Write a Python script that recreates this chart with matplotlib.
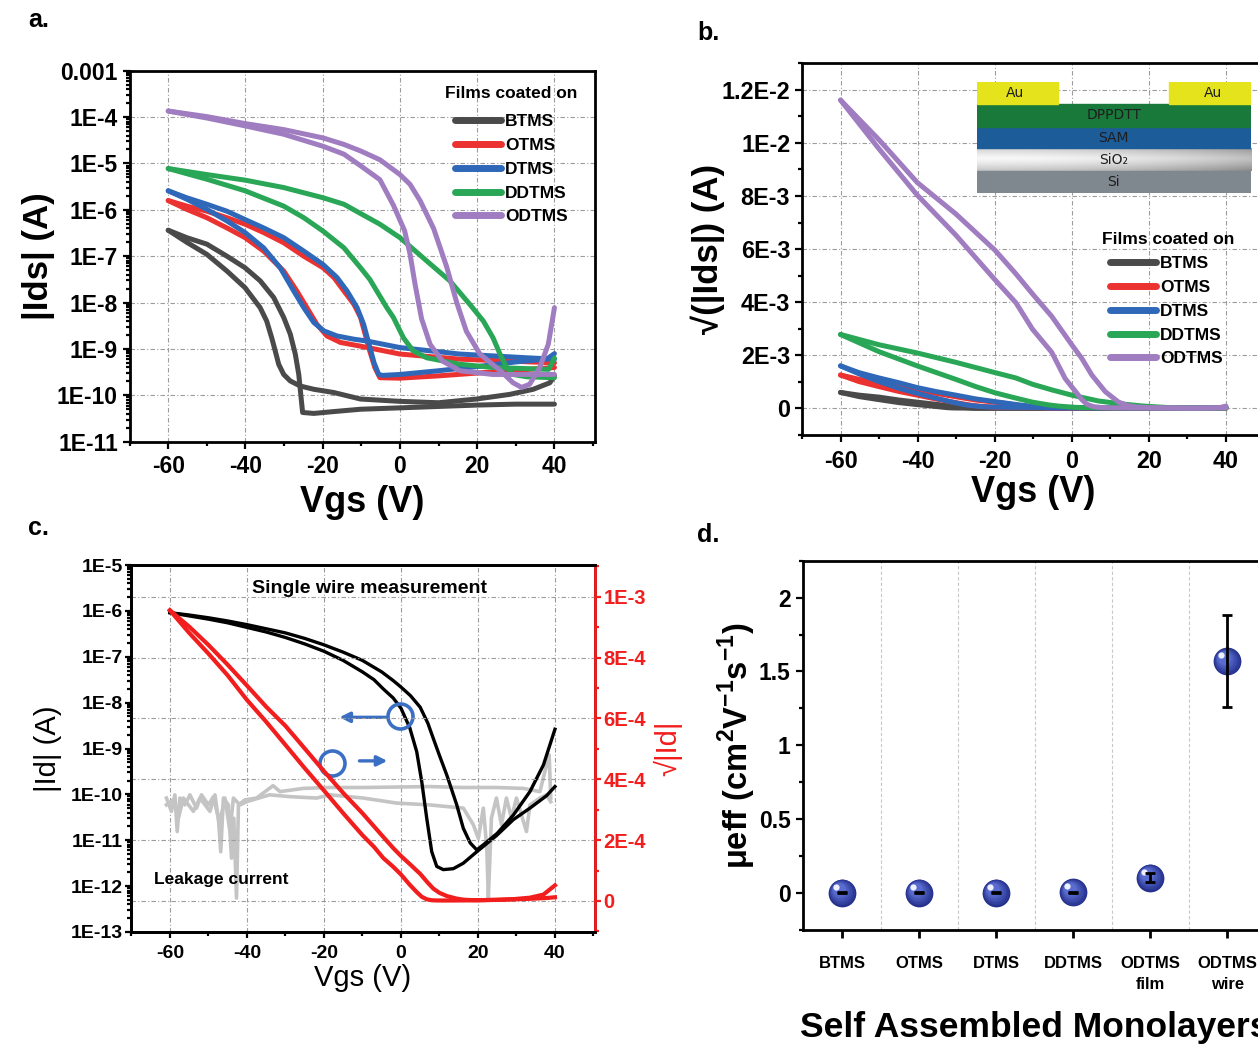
import numpy as np
import matplotlib.pyplot as plt
import matplotlib.colors as mcolors
from matplotlib import ticker
from matplotlib.transforms import offset_copy
from matplotlib.patches import Rectangle

plt.rcParams['font.family'] = ['Liberation Sans', 'DejaVu Sans']
plt.rcParams['mathtext.fontset'] = 'custom'
plt.rcParams['mathtext.rm'] = 'Liberation Sans:bold'
plt.rcParams['mathtext.bf'] = 'Liberation Sans:bold'
plt.rcParams['axes.linewidth'] = 2.0
plt.rcParams['axes.unicode_minus'] = False

# transfer curves of DPPDTT films on each SAM, Vgs (V) and log10|Ids| (A), two sweep branches
sams = ['BTMS', 'OTMS', 'DTMS', 'DDTMS', 'ODTMS']
sam_colors = ['#4a4a4a', '#ec3131', '#2f68b8', '#29a656', '#a07cc0']

btms_v1 = [-60, -55.2, -50, -44.8, -40.1, -36.2, -34.5, -33.2, -32.3, -31.4, -30.1, -28.4, -25.8, -22.3, -17.1,
           -10.2, 0, 10, 19.8, 28.4, 34.5, 38.8, 40]
btms_log1 = [-6.44, -6.70, -6.96, -7.32, -7.68, -8.11, -8.40, -8.76, -9.04, -9.33, -9.55, -9.69, -9.80, -9.87,
             -9.94, -10.08, -10.13, -10.16, -10.08, -9.98, -9.87, -9.73, -9.58]
btms_v2 = [-60, -55.2, -50, -44.8, -40.1, -36.2, -32.7, -30.1, -28.4, -27.1, -26.2, -25.6, -25.2, -22.3, -17.1,
           -10.2, 0, 10, 20, 30, 40]
btms_log2 = [-6.44, -6.60, -6.74, -7.00, -7.25, -7.53, -7.89, -8.32, -8.68, -9.11, -9.55, -10.05, -10.37, -10.39,
             -10.35, -10.30, -10.27, -10.24, -10.21, -10.19, -10.19]

otms_v1 = [-60, -55.2, -50, -44.8, -40.1, -35.3, -30.1, -24.9, -19.9, -17.1, -14.5, -11.9, -10.2, -7.8, -6.5,
           -5.2, 0, 10, 20, 30, 40]
otms_log1 = [-5.80, -5.92, -6.03, -6.17, -6.31, -6.49, -6.71, -7.00, -7.25, -7.46, -7.75, -8.04, -8.32, -9.05,
             -9.40, -9.62, -9.63, -9.58, -9.52, -9.46, -9.40]
otms_v2 = [-60, -55.2, -50, -44.8, -40.1, -35.3, -30.1, -26.7, -24.1, -21.5, -18.9, -15.4, -10.2, 0, 15.5, 40]
otms_log2 = [-5.80, -5.99, -6.17, -6.39, -6.60, -6.89, -7.32, -7.75, -8.11, -8.47, -8.72, -8.86, -8.94, -9.11,
             -9.22, -9.30]

dtms_v1 = [-60, -55.2, -50, -44.8, -40.1, -35.3, -30.1, -24.9, -19.9, -16.3, -13.7, -11.1, -9.4, -8.0, -6.7,
           -5.5, -4.5, 0, 10, 20, 30, 38, 40]
dtms_log1 = [-5.59, -5.74, -5.88, -6.03, -6.21, -6.39, -6.60, -6.89, -7.18, -7.46, -7.75, -8.11, -8.47, -8.90,
             -9.30, -9.55, -9.57, -9.55, -9.47, -9.38, -9.28, -9.22, -9.10]
dtms_v2 = [-60, -55.2, -50, -44.8, -40.1, -35.3, -31.0, -27.5, -24.9, -22.3, -19.7, -16.3, -11.9, -8.5, 0, 15.5,
           32.8, 40]
dtms_log2 = [-5.59, -5.77, -5.99, -6.24, -6.49, -6.82, -7.25, -7.75, -8.11, -8.43, -8.61, -8.72, -8.79, -8.83,
             -8.97, -9.11, -9.19, -9.22]

ddtms_v1 = [-60, -50, -40.1, -30.1, -19.9, -14.5, -10.2, -5.2, 0, 6.9, 12.9, 18.1, 21.6, 24.1, 25.9, 27.6, 29.3,
            32.8, 40]
ddtms_log1 = [-5.11, -5.24, -5.36, -5.52, -5.74, -5.88, -6.08, -6.31, -6.60, -7.10, -7.53, -8.04, -8.40, -8.76,
              -9.11, -9.40, -9.55, -9.60, -9.62]
ddtms_v2 = [-60, -50, -40.1, -30.1, -24.9, -19.9, -14.5, -10.2, -7.8, -6.0, -3.4, -1.7, 0.9, 3.4, 6.9, 15.5, 24.1,
            38.5, 40]
ddtms_log2 = [-5.11, -5.34, -5.59, -5.92, -6.17, -6.46, -6.82, -7.25, -7.50, -7.75, -8.11, -8.32, -8.76, -9.04,
              -9.19, -9.33, -9.40, -9.44, -9.20]

odtms_v1 = [-60, -50, -40.1, -30.1, -19.9, -14.5, -10.2, -5.2, 0, 2.6, 5.2, 8.7, 12.1, 14.7, 17.2, 20.7, 26, 29.3,
            31.5, 33.6, 36.2, 38.4, 40]
odtms_log1 = [-3.87, -3.99, -4.14, -4.27, -4.45, -4.59, -4.73, -4.92, -5.24, -5.45, -5.80, -6.40, -7.23, -8.00,
              -8.62, -9.11, -9.47, -9.73, -9.83, -9.76, -9.40, -8.90, -8.11]
odtms_v2 = [-60, -50, -40.1, -30.1, -19.9, -14.5, -10.2, -5.2, -1.7, 1.2, 2.6, 3.9, 5.6, 7.8, 11, 15.5, 24, 40]
odtms_log2 = [-3.87, -4.02, -4.19, -4.37, -4.63, -4.80, -5.05, -5.35, -5.90, -6.45, -6.95, -7.60, -8.35, -8.90,
              -9.26, -9.47, -9.55, -9.55]

sweeps = [
    [(btms_v1, btms_log1), (btms_v2, btms_log2)],
    [(otms_v1, otms_log1), (otms_v2, otms_log2)],
    [(dtms_v1, dtms_log1), (dtms_v2, dtms_log2)],
    [(ddtms_v1, ddtms_log1), (ddtms_v2, ddtms_log2)],
    [(odtms_v1, odtms_log1), (odtms_v2, odtms_log2)],
]

# single ODTMS wire: drain current branches, log10|Id| (A)
wire_v1 = [-60, -55, -50, -45, -40, -35, -30, -25, -20, -15, -10, -5, -2, 0, 2.5, 5, 7, 8.4, 10, 12, 14.5, 16.2,
           18, 19.7, 21.4, 25, 29.2, 33.5, 37, 40]
wire_log1 = [-6.04, -6.09, -6.15, -6.22, -6.30, -6.39, -6.48, -6.60, -6.74, -6.90, -7.08, -7.33, -7.52, -7.66,
             -7.85, -8.10, -8.45, -8.78, -9.15, -9.60, -10.23, -10.74, -11.06, -11.21, -11.10, -10.85, -10.45,
             -9.94, -9.36, -8.58]
wire_v2 = [-60, -55, -50, -45, -40, -35, -30, -25, -20, -15, -10, -7, -4.6, -2, 0, 2.3, 4.1, 5.4, 6.7, 8.0, 9.3,
           11, 13.6, 16.2, 19.7, 24.8, 29.2, 33.5, 37.8, 40]
wire_log2 = [-6.04, -6.11, -6.18, -6.26, -6.36, -6.46, -6.58, -6.72, -6.88, -7.08, -7.33, -7.50, -7.70, -7.90,
             -8.12, -8.55, -9.07, -9.72, -10.52, -11.25, -11.57, -11.64, -11.62, -11.50, -11.25, -10.90, -10.55,
             -10.30, -10.03, -9.83]

# gate leakage, log10|Ig| (A)
leak_v1 = [-60.9, -59.6, -58.7, -58.1, -57.4, -56.1, -54.8, -53.1, -51.8, -50.0, -48.7, -47.4, -46.8, -46.1, -44.8,
           -44.0, -43.4, -42.7, -42.2, -40.5, -37.5, -33.2, -31.4, -25.4, -18.4, -9.8, -1.1, 7.5, 16.2, 24.8, 31.8,
           36.1, 37.8, 38.5, 38.9]
leak_log1 = [-10.08, -10.37, -10.01, -10.81, -10.08, -10.23, -10.01, -10.30, -10.01, -10.23, -10.05, -10.52,
             -11.25, -10.08, -10.23, -11.39, -10.52, -12.26, -10.23, -10.12, -10.08, -9.81, -9.94, -9.87, -9.85,
             -9.85, -9.84, -9.83, -9.85, -9.85, -9.87, -9.94, -9.36, -9.14, -10.08]
leak_v2 = [-60.9, -59.1, -57.8, -56.5, -53.9, -52.2, -49.6, -48.3, -47.2, -45.7, -44.4, -43.5, -41.8, -40.1, -34.1,
           -28.8, -21.9, -18.4, -9.8, -1.1, 7.5, 16.2, 18.8, 20.1, 21.4, 22.3, 22.7, 23.5, 24.8, 26.1, 27.4, 28.7,
           30.0, 32.6, 33.5, 36.1, 37.8, 38.9]
leak_log2 = [-10.23, -10.12, -10.52, -10.08, -10.37, -10.08, -10.37, -10.01, -10.66, -10.08, -10.81, -10.08,
             -10.23, -10.16, -10.01, -10.05, -10.08, -10.01, -10.08, -10.19, -10.23, -10.30, -10.66, -10.96,
             -10.30, -11.17, -12.26, -10.52, -10.08, -10.66, -10.08, -10.52, -10.08, -10.81, -10.23, -10.08,
             -10.01, -10.16]

# effective mobility (cm2/Vs) per SAM
mob_labels = ['BTMS', 'OTMS', 'DTMS', 'DDTMS', 'ODTMS\nfilm', 'ODTMS\nwire']
mob_mean = [0.002, 0.002, 0.002, 0.006, 0.104, 1.57]
mob_err = [0.004, 0.004, 0.004, 0.004, 0.03, 0.31]

W, H = 1258, 1045
fig = plt.figure(figsize=(W / 100, H / 100), dpi=100)


def box(left, top, right, bottom):
    return [left / W, 1 - bottom / H, (right - left) / W, (bottom - top) / H]


grid_kw = dict(ls=(0, (4, 2, 1, 2)), color='#9c9c9c', lw=0.8)
bold = dict(fontweight='bold')


def style_axes(ax, labelsize, length=5):
    ax.tick_params(which='both', direction='out', width=1.6, labelsize=labelsize)
    ax.tick_params(which='major', length=length)
    ax.tick_params(which='minor', length=length * 0.6)
    for lab in ax.get_xticklabels() + ax.get_yticklabels():
        lab.set_fontweight('bold')


def sam_legend(ax, x, y, title_x, title_y):
    fig.text(title_x / W, 1 - title_y / H, 'Films coated on', fontsize=12.5, ha='center', va='center', **bold)
    leg = ax.legend(loc='upper left', bbox_to_anchor=(x / W, 1 - y / H),
                    bbox_transform=fig.transFigure, frameon=False,
                    prop={'weight': 'bold', 'size': 12.5},
                    handlelength=2.65, handletextpad=0.25, labelspacing=0.5,
                    borderpad=0, borderaxespad=0)
    for h in leg.legend_handles:
        h.set_linewidth(5)


# ---- a: log transfer curves
ax = fig.add_axes(box(129.6, 70.7, 595, 441.7))
for name, col, branches in zip(sams, sam_colors, sweeps):
    for k, (v, lg) in enumerate(branches):
        ax.plot(v, 10.0 ** np.array(lg), color=col, lw=3.6, label=name if k == 0 else None,
                solid_capstyle='round', solid_joinstyle='round')
ax.set_yscale('log')
ax.set_ylim(1e-11, 1e-3)
ax.set_xlim(-70, 50.5)
ax.set_xticks([-60, -40, -20, 0, 20, 40])
ax.xaxis.set_minor_locator(ticker.MultipleLocator(10))
dec = [10.0 ** p for p in range(-11, -2)]
ax.set_yticks(dec)
ax.set_yticklabels(['1E-11', '1E-10', '1E-9', '1E-8', '1E-7', '1E-6', '1E-5', '1E-4', '0.001'])
ax.yaxis.set_minor_locator(ticker.LogLocator(subs=np.arange(2, 10), numticks=20))
ax.yaxis.set_minor_formatter(ticker.NullFormatter())
ax.grid(True, which='major', **grid_kw)
style_axes(ax, 16.5)
ax.tick_params(axis='y', which='major', pad=3.5)
ax.tick_params(axis='x', which='major', pad=4.5)
ax.set_ylabel('|Ids| (A)', fontsize=25, va='center', **bold)
ax.yaxis.set_label_coords(-0.195, 0.5)
ax.set_xlabel('Vgs (V)', fontsize=26, va='center', **bold)
ax.xaxis.set_label_coords(0.5, -0.163)
sam_legend(ax, 455, 114, 511, 93)

# ---- b: square-root transfer curves, with device stack inset
ax = fig.add_axes(box(802, 63.3, 1264.5, 435))
for name, col, branches in zip(sams, sam_colors, sweeps):
    for k, (v, lg) in enumerate(branches):
        ax.plot(v, np.sqrt(10.0 ** np.array(lg)), color=col, lw=3.6, label=name if k == 0 else None,
                solid_capstyle='round', solid_joinstyle='round')
ax.set_xlim(-70, 50)
ax.set_ylim(-1.0e-3, 1.3e-2)
ax.set_xticks([-60, -40, -20, 0, 20, 40])
ax.xaxis.set_minor_locator(ticker.MultipleLocator(10))
ax.set_yticks([0, 2e-3, 4e-3, 6e-3, 8e-3, 1e-2, 1.2e-2])
ax.set_yticklabels(['0', '2E-3', '4E-3', '6E-3', '8E-3', '1E-2', '1.2E-2'])
ax.yaxis.set_minor_locator(ticker.MultipleLocator(1e-3))
ax.grid(True, which='major', **grid_kw)
style_axes(ax, 16.8)
ax.tick_params(axis='y', which='major', pad=3.5)
ax.tick_params(axis='x', which='major', pad=5.5)
ax.set_ylabel('√(|Ids|) (A)', fontsize=25, va='center', **bold)
ax.yaxis.set_label_coords(-0.203, 0.5)
ax.set_xlabel('Vgs (V)', fontsize=26, va='center', **bold)
ax.xaxis.set_label_coords(0.5, -0.156)
sam_legend(ax, 1110, 256, 1168, 240)

ins = fig.add_axes(box(976.7, 81.7, 1251, 192.7))
ins.axis('off')
ins.add_patch(Rectangle((0, 0), 1, 0.198, color='#7f878f'))
gy, gx = np.mgrid[0:1:60j, 0:1:200j]
shade = 0.97 - 0.45 * np.abs(gy - 0.55) ** 1.3 - 0.22 * gx ** 2
ins.imshow(shade, cmap='gray', vmin=0, vmax=1, extent=(0, 1, 0.198, 0.40), aspect='auto', origin='lower')
ins.add_patch(Rectangle((0, 0.40), 1, 0.195, color='#1c5c98'))
ins.add_patch(Rectangle((0, 0.595), 1, 0.204, color='#18793b'))
ins.add_patch(Rectangle((0, 0.799), 0.2975, 0.201, color='#e4e31c'))
ins.add_patch(Rectangle((0.702, 0.799), 0.298, 0.201, color='#e4e31c'))
ins.set_xlim(0, 1)
ins.set_ylim(0, 1)
inset_font = dict(family='DejaVu Sans', fontsize=10, color='#1e1e1e', ha='center', va='center')
ins.text(0.14, 0.9, 'Au', **inset_font)
ins.text(0.86, 0.9, 'Au', **inset_font)
ins.text(0.5, 0.697, 'DPPDTT', **inset_font)
ins.text(0.5, 0.497, 'SAM', **inset_font)
ins.text(0.5, 0.299, 'SiO₂', **inset_font)
ins.text(0.5, 0.099, 'Si', **inset_font)

# ---- c: single wire, log and square-root axes
red = '#f21d1d'
ax = fig.add_axes(box(131, 565, 595, 932))
ax2 = ax.twinx()
ax.plot(leak_v1, 10.0 ** np.array(leak_log1), color='#c4c4c4', lw=2.6)
ax.plot(leak_v2, 10.0 ** np.array(leak_log2), color='#c4c4c4', lw=2.6)
ax.plot(wire_v1, 10.0 ** np.array(wire_log1), color='black', lw=2.4, solid_joinstyle='round')
ax.plot(wire_v2, 10.0 ** np.array(wire_log2), color='black', lw=2.4, solid_joinstyle='round')
ax2.plot(wire_v1, np.sqrt(10.0 ** np.array(wire_log1)), color=red, lw=3.0, solid_joinstyle='round')
ax2.plot(wire_v2, np.sqrt(10.0 ** np.array(wire_log2)), color=red, lw=3.0, solid_joinstyle='round')
ax.set_yscale('log')
ax.set_ylim(1e-13, 1e-5)
ax.set_xlim(-70.1, 50.4)
ax.set_xticks([-60, -40, -20, 0, 20, 40])
ax.xaxis.set_minor_locator(ticker.MultipleLocator(10))
ax.set_yticks([10.0 ** p for p in range(-13, -4)])
ax.set_yticklabels(['1E-13', '1E-12', '1E-11', '1E-10', '1E-9', '1E-8', '1E-7', '1E-6', '1E-5'])
ax.yaxis.set_minor_locator(ticker.LogLocator(subs=np.arange(2, 10), numticks=20))
ax.yaxis.set_minor_formatter(ticker.NullFormatter())
ax.grid(True, which='major', axis='x', **grid_kw)
ax2.set_ylim(-1.02e-4, 1.104e-3)
ax2.set_yticks([0, 2e-4, 4e-4, 6e-4, 8e-4, 1e-3])
ax2.set_yticklabels(['0', '2E-4', '4E-4', '6E-4', '8E-4', '1E-3'])
ax2.yaxis.set_minor_locator(ticker.MultipleLocator(1e-4))
ax2.grid(True, which='major', axis='y', **grid_kw)
style_axes(ax, 14, length=4.5)
ax.tick_params(axis='y', which='major', pad=1.5)
ax.tick_params(axis='x', which='major', pad=4.5)
ax2.tick_params(which='both', direction='out', colors=red, width=1.6, labelsize=14.5, pad=1.5)
ax2.tick_params(which='major', length=4.5)
ax2.tick_params(which='minor', length=2.7)
ax2.spines['right'].set_color(red)
for lab in ax2.get_yticklabels():
    lab.set_fontweight('bold')
ax.set_ylabel('|Id| (A)', fontsize=21, va='center')
ax.yaxis.set_label_coords(-0.179, 0.5)
ax.set_xlabel('Vgs (V)', fontsize=21, va='center')
ax.xaxis.set_label_coords(0.5, -0.125)
ax2.set_ylabel('√|Id|', fontsize=21, color=red, rotation=90, va='center')
ax2.yaxis.set_label_coords(1.157, 0.5)
ax.text(0.515, 0.937, 'Single wire measurement', transform=ax.transAxes, ha='center', va='center',
        fontsize=14, **bold)
ax.text(0.05, 0.142, 'Leakage current', transform=ax.transAxes, ha='left', va='center', fontsize=12.5, **bold)
blue = '#3b6fc4'
ax.plot([-0.3, -18.0], [10 ** -8.30, 10 ** -9.32], ls='none', marker='o', ms=18, mfc='none', mec=blue, mew=2.6)
ax.annotate('', xy=(-16.7, 10 ** -8.32), xytext=(-3.3, 10 ** -8.32),
            arrowprops=dict(arrowstyle='-|>', color=blue, lw=2.4, mutation_scale=15))
ax.annotate('', xy=(-2.8, 10 ** -9.27), xytext=(-11.5, 10 ** -9.27),
            arrowprops=dict(arrowstyle='-|>', color=blue, lw=2.4, mutation_scale=15))

# ---- d: effective mobility
ax = fig.add_axes(box(803, 560.7, 1265.7, 930))
xpos = np.arange(len(mob_labels))
base = np.array(mcolors.to_rgb('#25318c'))
light = np.array(mcolors.to_rgb('#5a6cd0'))
for k in range(8):
    f = k / 7
    off = offset_copy(ax.transData, fig=fig, x=-2.6 * f, y=2.6 * f, units='points')
    ax.plot(xpos, mob_mean, ls='none', marker='o', ms=20 * (1 - 0.55 * f), mec='none',
            mfc=base + (light - base) * f, transform=off, zorder=3 + k * 0.01)
hl = offset_copy(ax.transData, fig=fig, x=-4.3, y=4.3, units='points')
ax.plot(xpos, mob_mean, ls='none', marker='o', ms=4.5, mec='none', mfc='#eef0ff', transform=hl, zorder=3.2)
ax.errorbar(xpos, mob_mean, yerr=mob_err, fmt='none', ecolor='black', elinewidth=2, capsize=3.5,
            capthick=2, zorder=5)
ax.set_xlim(-0.51, 5.5)
ax.set_ylim(-0.25, 2.25)
ax.set_xticks(xpos)
ax.set_xticklabels(mob_labels, fontsize=12, fontweight='bold', linespacing=1.5)
ax.set_xticks(np.arange(0.5, 5.5, 1), minor=True)
ax.grid(True, which='minor', axis='x', ls=(0, (3, 2)), color='#c8c8c8', lw=0.8)
ax.set_yticks([0, 0.5, 1, 1.5, 2])
ax.set_yticklabels(['0', '0.5', '1', '1.5', '2'])
ax.yaxis.set_minor_locator(ticker.MultipleLocator(0.25))
ax.tick_params(axis='y', which='both', direction='out', width=1.6, labelsize=16.5, pad=4)
ax.tick_params(axis='y', which='major', length=5)
ax.tick_params(axis='y', which='minor', length=3)
ax.tick_params(axis='x', which='major', direction='out', length=6, width=2, pad=13)
ax.tick_params(axis='x', which='minor', length=0)
for lab in ax.get_yticklabels():
    lab.set_fontweight('bold')
ax.set_ylabel(r'μeff (cm$^{\mathbf{2}}$V$^{\mathbf{-1}}$s$^{\mathbf{-1}}$)', fontsize=23.5, va='center', **bold)
ax.yaxis.set_label_coords(-0.143, 0.5)
ax.set_xlabel('Self Assembled Monolayers', fontsize=25.5, va='center', **bold)
ax.xaxis.set_label_coords(0.5, -0.263)

# panel letters
for letter, x, y in [('a.', 28, 20), ('b.', 697, 33), ('c.', 28, 528), ('d.', 697, 535)]:
    fig.text(x / W, 1 - y / H, letter, fontsize=18, fontweight='bold', ha='left', va='center')

fig.savefig('out.png', dpi=100)
